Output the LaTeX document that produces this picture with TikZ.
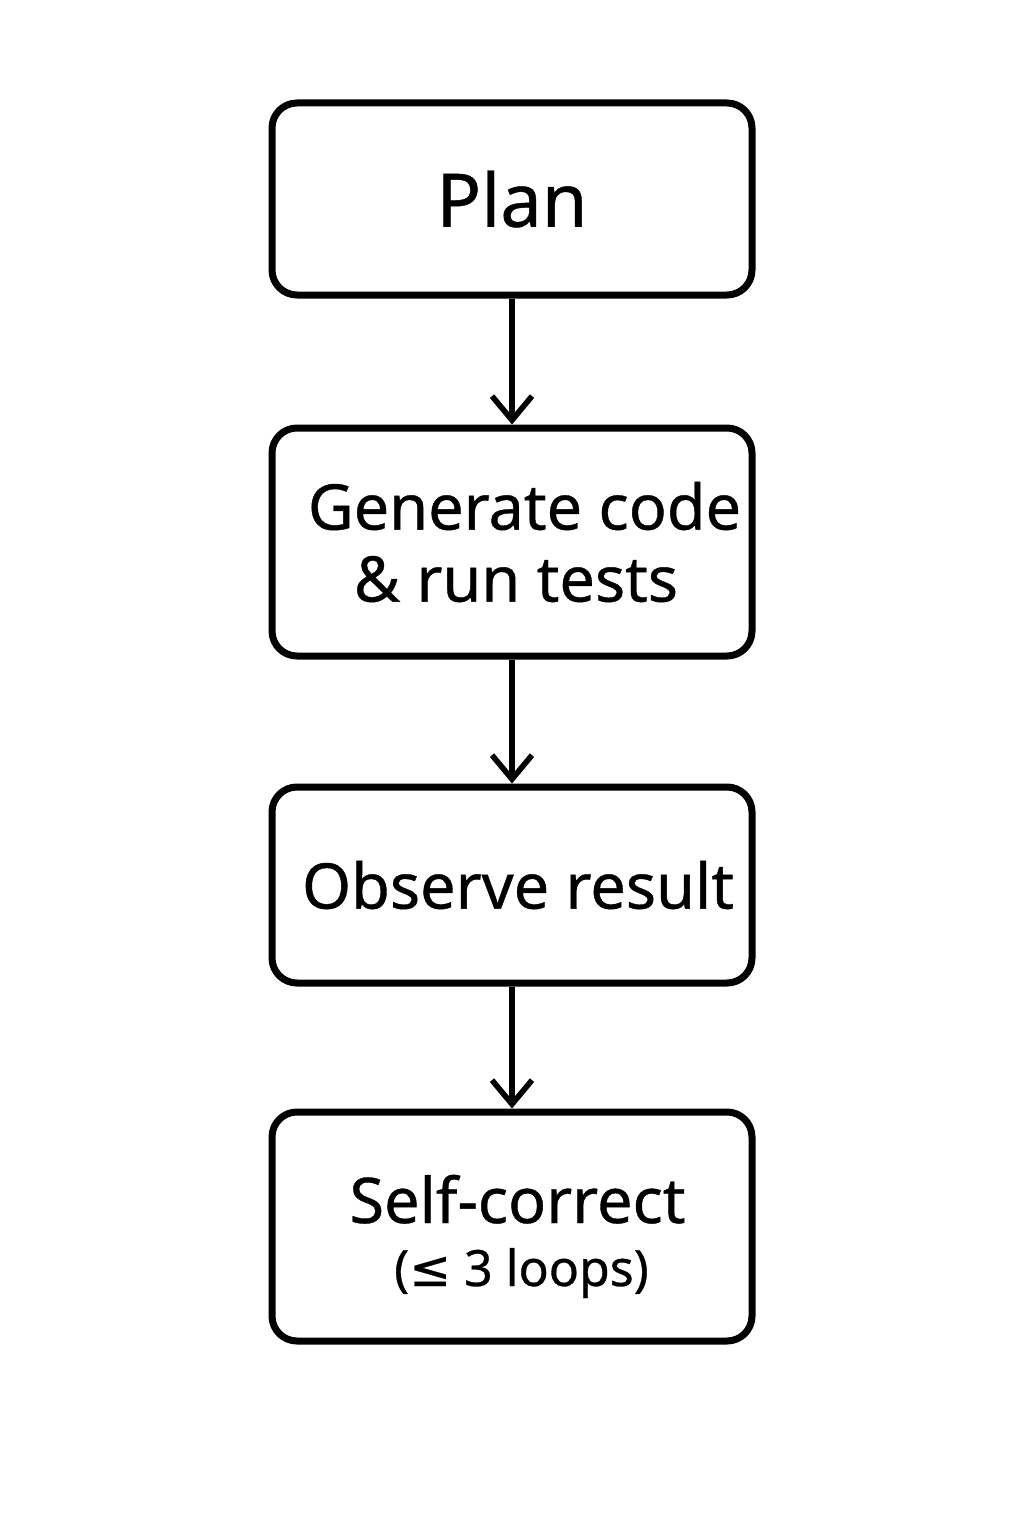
\documentclass[tikz,border=0pt]{standalone}
\usepackage{fontspec}
\setmainfont{Noto Sans}[FakeBold=0.6]
\newfontfamily\symfont{DejaVu Sans}[FakeBold=0.6]
\usetikzlibrary{arrows.meta}

\begin{document}
\begin{tikzpicture}[x=0.5pt,y=-0.5pt]
	\useasboundingbox (0,0) rectangle (1024,1536);
	\begin{scope}[every node/.style={draw, rounded corners=12.5pt, line width=3.5pt, minimum width=240pt, align=center, inner sep=0pt, font=\fontsize{31.5}{36}\selectfont}]
		\node[minimum height=96pt] (1) at (512,199) {\fontsize{37}{40}\selectfont Plan};
		\node[minimum height=114pt] (2) at (512,542) {\hspace*{12.5pt}Generate code\\\hspace*{4pt}\& run tests};
		\node[minimum height=98pt] (3) at (512,885) {\hspace*{6pt}Observe result};
		\node[minimum height=114.5pt] (4) at (512,1226.5) {\rule{0pt}{34pt}\hspace*{5.5pt}Self-correct\\[-4.5pt]{\fontsize{25}{28}\selectfont\hspace*{9.5pt}({\symfont≤} 3 loops)}};
	\end{scope}

	\begin{scope}[>={Straight Barb[length=12pt,width=20pt]},
	              line width=2.8pt,
	              every edge/.style={draw=black}]
		\path (1) edge[->] (2);
		\path (2) edge[->] (3);
		\path (3) edge[->] (4);
	\end{scope}
\end{tikzpicture}
\end{document}
